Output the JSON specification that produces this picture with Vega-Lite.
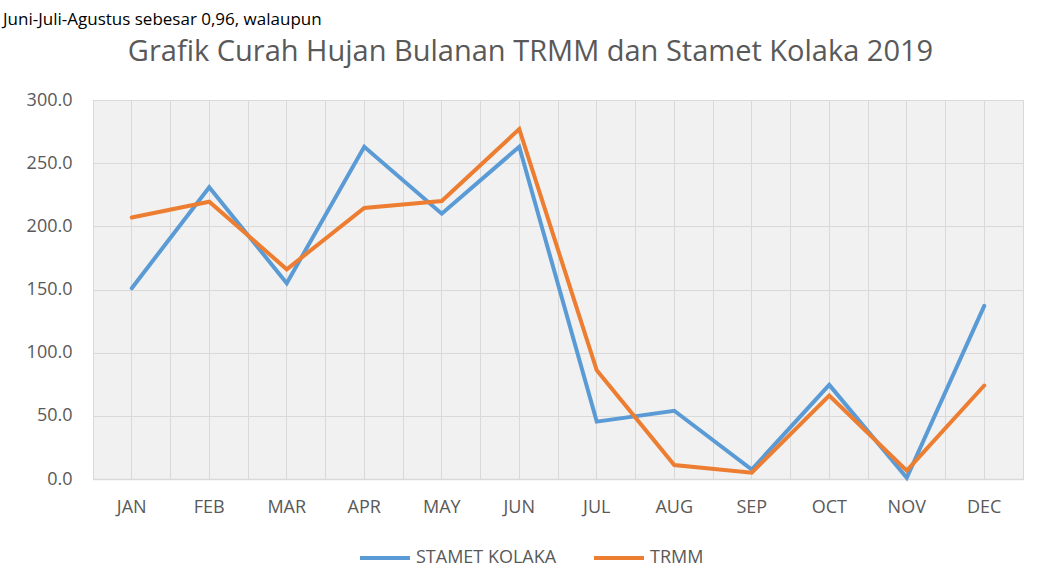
{
  "$schema": "https://vega.github.io/schema/vega-lite/v6.json",
  "autosize": {"type": "none"},
  "width": 930,
  "height": 379,
  "padding": {"left": 93, "top": 100, "right": 14, "bottom": 105},
  "background": "white",
  "title": {
    "text": "Juni-Juli-Agustus sebesar 0,96, walaupun",
    "anchor": "start",
    "frame": "group",
    "dx": -90,
    "dy": 5,
    "offset": 0,
    "font": "Open Sans",
    "fontSize": 17,
    "fontWeight": "normal",
    "color": "#000000",
    "baseline": "alphabetic"
  },
  "config": {
    "view": {"fill": "#f1f1f1", "stroke": "#d9d9d9", "strokeWidth": 1},
    "font": "Open Sans"
  },
  "data": {
    "values": [
      {"month": "JAN", "series": "STAMET KOLAKA", "value": 151},
      {"month": "FEB", "series": "STAMET KOLAKA", "value": 231},
      {"month": "MAR", "series": "STAMET KOLAKA", "value": 155},
      {"month": "APR", "series": "STAMET KOLAKA", "value": 263},
      {"month": "MAY", "series": "STAMET KOLAKA", "value": 210},
      {"month": "JUN", "series": "STAMET KOLAKA", "value": 263},
      {"month": "JUL", "series": "STAMET KOLAKA", "value": 45.4},
      {"month": "AUG", "series": "STAMET KOLAKA", "value": 54},
      {"month": "SEP", "series": "STAMET KOLAKA", "value": 7.5},
      {"month": "OCT", "series": "STAMET KOLAKA", "value": 74.5},
      {"month": "NOV", "series": "STAMET KOLAKA", "value": 1},
      {"month": "DEC", "series": "STAMET KOLAKA", "value": 137},
      {"month": "JAN", "series": "TRMM", "value": 207},
      {"month": "FEB", "series": "TRMM", "value": 219.5},
      {"month": "MAR", "series": "TRMM", "value": 166},
      {"month": "APR", "series": "TRMM", "value": 214.5},
      {"month": "MAY", "series": "TRMM", "value": 220},
      {"month": "JUN", "series": "TRMM", "value": 277},
      {"month": "JUL", "series": "TRMM", "value": 86},
      {"month": "AUG", "series": "TRMM", "value": 11},
      {"month": "SEP", "series": "TRMM", "value": 5},
      {"month": "OCT", "series": "TRMM", "value": 66},
      {"month": "NOV", "series": "TRMM", "value": 6.6},
      {"month": "DEC", "series": "TRMM", "value": 74}
    ]
  },
  "layer": [
    {
      "mark": {"type": "rule", "opacity": 0},
      "encoding": {
        "x": {
          "field": "month",
          "type": "ordinal",
          "sort": ["JAN","FEB","MAR","APR","MAY","JUN","JUL","AUG","SEP","OCT","NOV","DEC"],
          "scale": {"type": "band", "paddingInner": 0, "paddingOuter": 0},
          "axis": {
            "orient": "top",
            "bandPosition": 0,
            "grid": true,
            "gridColor": "#d9d9d9",
            "gridWidth": 1,
            "labels": false,
            "ticks": false,
            "domain": false,
            "title": "Grafik Curah Hujan Bulanan TRMM dan Stamet Kolaka 2019",
            "titleFont": "Open Sans",
            "titleFontSize": 29,
            "titleFontWeight": "normal",
            "titleColor": "#595959",
            "titleX": 437,
            "titleY": -40,
            "titleAlign": "center",
            "titleBaseline": "alphabetic"
          }
        }
      }
    },
    {
      "mark": {"type": "line", "strokeWidth": 4, "strokeCap": "round", "strokeJoin": "miter"},
      "encoding": {
        "x": {
          "field": "month",
          "type": "ordinal",
          "sort": ["JAN","FEB","MAR","APR","MAY","JUN","JUL","AUG","SEP","OCT","NOV","DEC"],
          "scale": {"type": "band", "paddingInner": 0, "paddingOuter": 0},
          "bandPosition": 0.5,
          "axis": {
            "orient": "bottom",
            "bandPosition": 0.5,
            "grid": true,
            "gridColor": "#d9d9d9",
            "gridWidth": 1,
            "ticks": false,
            "domain": true,
            "domainColor": "#d9d9d9",
            "domainWidth": 1.5,
            "labelAngle": 0,
            "labelFont": "Open Sans",
            "labelFontSize": 18,
            "labelColor": "#595959",
            "labelPadding": 19,
            "title": null
          }
        },
        "y": {
          "field": "value",
          "type": "quantitative",
          "scale": {"domain": [0, 300], "nice": false, "zero": true},
          "axis": {
            "values": [0, 50, 100, 150, 200, 250, 300],
            "format": ".1f",
            "grid": true,
            "gridColor": "#d9d9d9",
            "gridWidth": 1,
            "ticks": false,
            "domain": false,
            "labelFont": "Open Sans",
            "labelFontSize": 18,
            "labelColor": "#595959",
            "labelPadding": 21,
            "title": null
          }
        },
        "color": {
          "field": "series",
          "type": "nominal",
          "scale": {"domain": ["STAMET KOLAKA", "TRMM"], "range": ["#5B9BD5", "#ED7D31"]},
          "legend": {
            "orient": "none",
            "legendX": 265,
            "legendY": 431,
            "direction": "horizontal",
            "title": null,
            "symbolType": "stroke",
            "symbolSize": 2500,
            "symbolStrokeWidth": 4,
            "labelFont": "Open Sans",
            "labelFontSize": 18,
            "labelColor": "#595959",
            "labelOffset": 4,
            "columnPadding": 29
          }
        }
      }
    }
  ]
}
